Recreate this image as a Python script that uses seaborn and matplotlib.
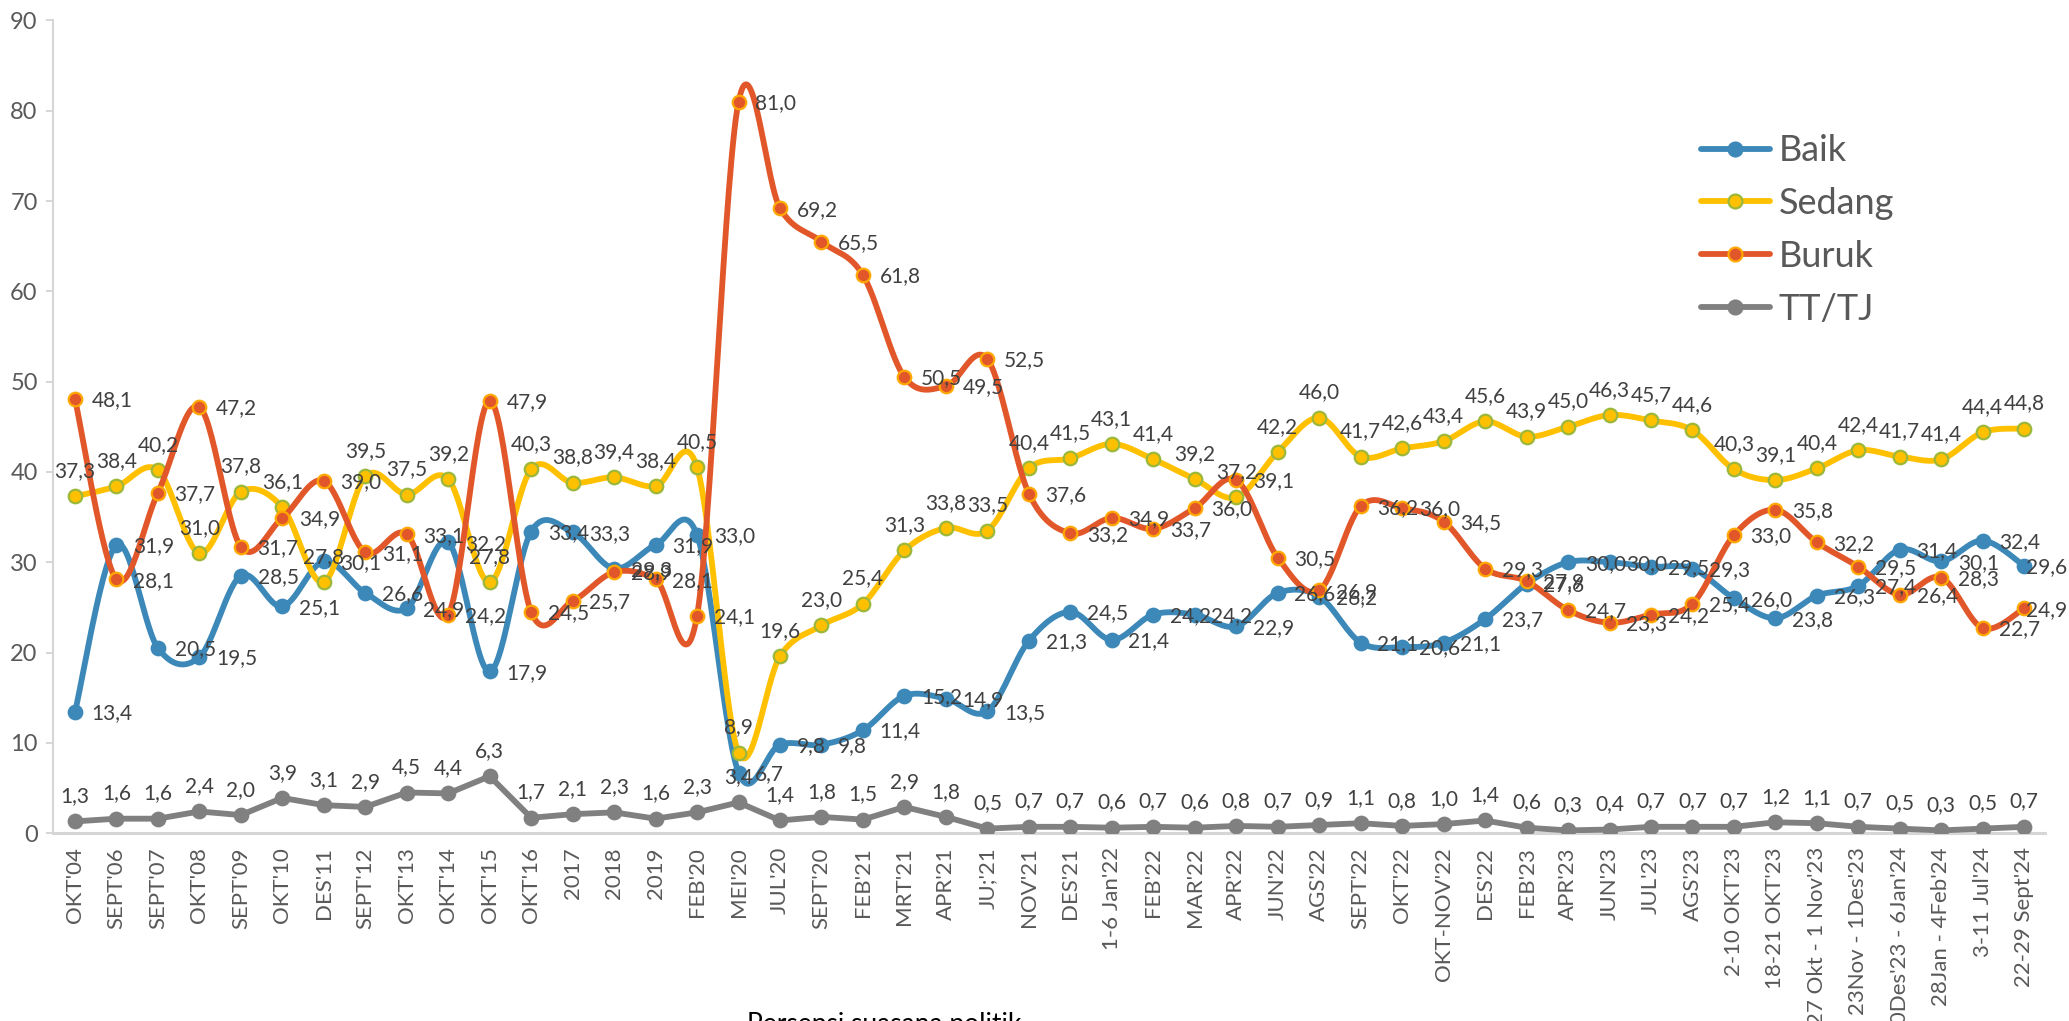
import numpy as np
import matplotlib
matplotlib.use("Agg")
import matplotlib.pyplot as plt
import seaborn as sns
from matplotlib.lines import Line2D

periods = ["OKT'04", "SEPT'06", "SEPT'07", "OKT'08", "SEPT'09", "OKT'10", "DES'11",
           "SEPT'12", "OKT'13", "OKT'14", "OKT'15", "OKT'16", "2017", "2018", "2019",
           "FEB'20", "MEI'20", "JUL'20", "SEPT'20", "FEB'21", "MRT'21", "APR'21",
           "JU;'21", "NOV'21", "DES'21", "1-6 Jan'22", "FEB'22", "MAR'22", "APR'22",
           "JUN'22", "AGS'22", "SEPT'22", "OKT'22", "OKT-NOV'22", "DES'22", "FEB'23",
           "APR'23", "JUN'23", "JUL'23", "AGS'23", "2-10 OKT'23", "18-21 OKT'23",
           "27 Okt - 1 Nov'23", "23Nov - 1Des'23", "30Des'23 - 6Jan'24",
           "28Jan - 4Feb'24", "3-11 Jul'24", "22-29 Sept'24"]

baik = [13.4, 31.9, 20.5, 19.5, 28.5, 25.1, 30.1, 26.6, 24.9, 32.2, 17.9, 33.4, 33.3,
        29.3, 31.9, 33.0, 6.7, 9.8, 9.8, 11.4, 15.2, 14.9, 13.5, 21.3, 24.5, 21.4,
        24.2, 24.2, 22.9, 26.6, 26.2, 21.1, 20.6, 21.1, 23.7, 27.6, 30.0, 30.0, 29.5,
        29.3, 26.0, 23.8, 26.3, 27.4, 31.4, 30.1, 32.4, 29.6]

sedang = [37.3, 38.4, 40.2, 31.0, 37.8, 36.1, 27.8, 39.5, 37.5, 39.2, 27.8, 40.3, 38.8,
          39.4, 38.4, 40.5, 8.9, 19.6, 23.0, 25.4, 31.3, 33.8, 33.5, 40.4, 41.5, 43.1,
          41.4, 39.2, 37.2, 42.2, 46.0, 41.7, 42.6, 43.4, 45.6, 43.9, 45.0, 46.3, 45.7,
          44.6, 40.3, 39.1, 40.4, 42.4, 41.7, 41.4, 44.4, 44.8]

buruk = [48.1, 28.1, 37.7, 47.2, 31.7, 34.9, 39.0, 31.1, 33.1, 24.2, 47.9, 24.5, 25.7,
         28.9, 28.1, 24.1, 81.0, 69.2, 65.5, 61.8, 50.5, 49.5, 52.5, 37.6, 33.2, 34.9,
         33.7, 36.0, 39.1, 30.5, 26.9, 36.2, 36.0, 34.5, 29.3, 27.9, 24.7, 23.3, 24.2,
         25.4, 33.0, 35.8, 32.2, 29.5, 26.4, 28.3, 22.7, 24.9]

tttj = [1.3, 1.6, 1.6, 2.4, 2.0, 3.9, 3.1, 2.9, 4.5, 4.4, 6.3, 1.7, 2.1, 2.3, 1.6, 2.3,
        3.4, 1.4, 1.8, 1.5, 2.9, 1.8, 0.5, 0.7, 0.7, 0.6, 0.7, 0.6, 0.8, 0.7, 0.9, 1.1,
        0.8, 1.0, 1.4, 0.6, 0.3, 0.4, 0.7, 0.7, 0.7, 1.2, 1.1, 0.7, 0.5, 0.3, 0.5, 0.7]

series_names = ["Baik", "Sedang", "Buruk", "TT/TJ"]
caption = "Persepsi suasana politik"

sns.set_theme(style="white")
plt.rcParams['font.family'] = ['Lato', 'DejaVu Sans']

fig = plt.figure(figsize=(20.69, 10.21), dpi=100)
ax = fig.add_axes([0.0256, 0.184, 0.9628, 0.796])


def smooth(vals, n=30):
    """Excel-style smoothed line (Bezier through the data points)."""
    y = np.asarray(vals, float)
    x = np.arange(len(y), dtype=float)
    P = np.column_stack([x, y])
    Pp = np.vstack([P[0], P, P[-1]])
    t = np.linspace(0, 1, n, endpoint=False)[:, None]
    out = []
    for i in range(len(y) - 1):
        p0, p1, p2, p3 = Pp[i], Pp[i + 1], Pp[i + 2], Pp[i + 3]
        c1 = p1 + (p2 - p0) / 6
        c2 = p2 - (p3 - p1) / 6
        out.append((1 - t) ** 3 * p1 + 3 * (1 - t) ** 2 * t * c1
                   + 3 * (1 - t) * t ** 2 * c2 + t ** 3 * p2)
    out.append(P[-1:])
    out = np.vstack(out)
    return out[:, 0], out[:, 1]


specs = [
    ("Baik", baik, "#3C88B8", "#3C88B8", "#3C88B8", True, "right"),
    ("Sedang", sedang, "#FFC000", "#FFC000", "#9CB83A", True, "above"),
    ("Buruk", buruk, "#E2572A", "#E2572A", "#FFA800", True, "right"),
    ("TT/TJ", tttj, "#808080", "#808080", "#808080", False, "above"),
]

xpos = np.arange(len(periods))
last = len(periods) - 1
lab_color = "#404040"
handles = []
for k, (name, vals, lc, fc, ec, sm, place) in enumerate(specs):
    if sm:
        sx, sy = smooth(vals)
    else:
        sx, sy = xpos.astype(float), np.asarray(vals, float)
    sns.lineplot(x=sx, y=sy, sort=False, ax=ax, color=lc, linewidth=4.2,
                 zorder=2 + k, estimator=None)
    sns.scatterplot(x=xpos, y=vals, ax=ax, s=95, color=fc, edgecolor=ec,
                    linewidth=1.6, zorder=2.5 + k)
    for i, v in enumerate(vals):
        txt = f"{v:.1f}".replace(".", ",")
        if place == "right":
            dx = 1 if i == last else 12
            ax.annotate(txt, (i, v), xytext=(dx, -1), textcoords="offset points",
                        ha="left", va="center", fontsize=15, color=lab_color, zorder=10)
        else:
            ax.annotate(txt, (i, v), xytext=(0, 11), textcoords="offset points",
                        ha="center", va="bottom", fontsize=15, color=lab_color, zorder=10)
    handles.append(Line2D([0], [0], color=lc, lw=4.2, marker="o", markersize=10,
                          markerfacecolor=fc, markeredgecolor=ec, markeredgewidth=1.6))

ax.set_xlim(-0.53, 47.5)
ax.set_ylim(0, 90)
ax.set_yticks(np.arange(0, 91, 10))
ax.set_xticks(xpos)
ax.set_xticklabels(periods, rotation=90, ha="center", va="top")
ax.tick_params(axis="x", length=0, pad=10, labelsize=16, labelcolor="#595959")
ax.tick_params(axis="y", length=5, width=1.2, color="#D0D0D0", pad=6,
               labelsize=17, labelcolor="#595959", left=True)
ax.set_xlabel("")
ax.set_ylabel("")
for s in ["top", "right"]:
    ax.spines[s].set_visible(False)
ax.spines["left"].set_color("#D6D6D6")
ax.spines["left"].set_linewidth(1.5)
ax.spines["bottom"].set_color("#D6D6D6")
ax.spines["bottom"].set_linewidth(2.2)
ax.grid(False)

leg = ax.legend(handles, series_names, loc="upper left", bbox_to_anchor=(0.811, 0.9),
                frameon=False, fontsize=26, labelspacing=0.55, handlelength=1.9,
                handletextpad=0.25, labelcolor="#595959")

fig.text(0.361, 0.0085, caption, ha="left", va="top", fontsize=19, color="black")

fig.savefig("out.png", dpi=100)
